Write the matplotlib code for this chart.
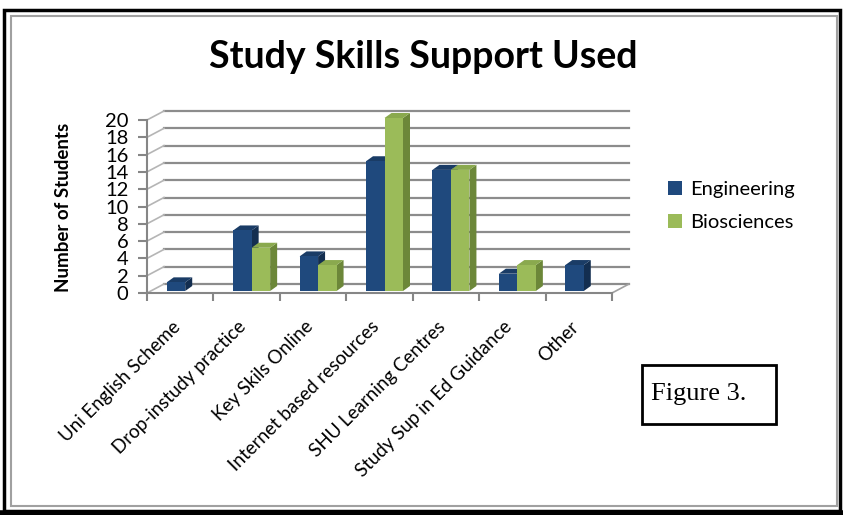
import matplotlib
matplotlib.use('Agg')
import matplotlib.pyplot as plt
import matplotlib.transforms as mtransforms
from matplotlib.patches import Polygon, Rectangle, Patch
from matplotlib.lines import Line2D

plt.rcParams['font.family'] = ['Lato', 'DejaVu Sans']

categories = ['Uni English Scheme', 'Drop-instudy practice', 'Key Skils Online',
              'Internet based resources', 'SHU Learning Centres',
              'Study Sup in Ed Guidance', 'Other']
engineering = [1, 7, 4, 15, 14, 2, 3]
biosciences = [0, 5, 3, 20, 14, 3, 0]
series_names = ['Engineering', 'Biosciences']
y_ticks = list(range(0, 21, 2))

# colours: front, top, side
BLUE = ('#1F497D', '#1A3C66', '#132E50')
GREEN = ('#9BBB59', '#8AA94E', '#6C8739')
GRID = '#8C8C8C'

W, H = 843, 515
fig = plt.figure(figsize=(W / 100, H / 100), dpi=100)

# plot area in pixels (front face of the 3D box)
px_left, px_right, px_bottom, px_top = 147, 612, 293, 120
ax = fig.add_axes([px_left / W, 1 - px_bottom / H,
                   (px_right - px_left) / W, (px_bottom - px_top) / H])
n = len(categories)
ax.set_xlim(0, n)
ax.set_ylim(0, 20)

ux = n / (px_right - px_left)      # data units per pixel, x
uy = 20 / (px_bottom - px_top)     # data units per pixel, y

# back wall depth offset
wdx, wdy = 17 * ux, 9 * uy

# back wall gridlines and left side wall slants
for v in y_ticks:
    ax.add_line(Line2D([wdx, n + wdx], [v + wdy, v + wdy], color=GRID,
                       lw=1.6, clip_on=False, zorder=1))
    ax.add_line(Line2D([0, wdx], [v, v + wdy], color='#B5B5B5', lw=1.2,
                       clip_on=False, zorder=1))
ax.add_line(Line2D([n, n + wdx], [0, wdy], color='#A0A0A0', lw=1.2,
                   clip_on=False, zorder=1))

# bars with simple 3D faces
bw = 18.5 * ux
shift_x, shift_y = 5 * ux, 2 * uy
bdx, bdy = 7 * ux, 5 * uy
for i in range(n):
    for j, (vals, cols) in enumerate([(engineering, BLUE), (biosciences, GREEN)]):
        v = vals[i]
        if v == 0:
            continue
        x0 = i + 0.5 - bw + j * bw + shift_x
        x1 = x0 + bw
        y0 = shift_y
        top = v + shift_y
        z = 3 + i * 2 + j
        ax.add_patch(Polygon([(x1, y0), (x1 + bdx, y0 + bdy), (x1 + bdx, top + bdy), (x1, top)],
                             closed=True, facecolor=cols[2], edgecolor='none',
                             clip_on=False, zorder=z))
        ax.add_patch(Polygon([(x0, top), (x0 + bdx, top + bdy), (x1 + bdx, top + bdy), (x1, top)],
                             closed=True, facecolor=cols[1], edgecolor='none',
                             clip_on=False, zorder=z))
        ax.add_patch(Rectangle((x0, y0), bw, v, facecolor=cols[0], edgecolor='none',
                               clip_on=False, zorder=z))

# axes styling
for s in ['top', 'right']:
    ax.spines[s].set_visible(False)
for s in ['left', 'bottom']:
    ax.spines[s].set_color('#868686')
    ax.spines[s].set_linewidth(1.5)
ax.patch.set_alpha(0)

ax.set_yticks(y_ticks)
ax.tick_params(axis='y', length=6.5, width=1.5, color='#868686', labelsize=14.5, pad=7)
ax.set_xticks(range(n + 1))
ax.set_xticklabels([])
ax.tick_params(axis='x', which='major', length=6, width=1.5, color='#868686')
ax.set_xticks([i + 0.5 for i in range(n)], minor=True)
ax.set_xticklabels(categories, minor=True, rotation=45, ha='right', va='top',
                   rotation_mode='anchor', fontsize=13.5)
ax.tick_params(axis='x', which='minor', length=0, pad=18)
# nudge rotated labels left so their ends sit on the category centres
nudge = mtransforms.ScaledTranslation(-0.09, 0, fig.dpi_scale_trans)
for lbl in ax.get_xminorticklabels():
    lbl.set_transform(lbl.get_transform() + nudge)

ax.set_ylabel('Number of Students', fontsize=13.5, fontweight='bold')
ax.yaxis.set_label_coords((72 - px_left) / (px_right - px_left),
                          (px_bottom - 207) / (px_bottom - px_top))

fig.text(423 / W, 1 - 57 / H, 'Study Skills Support Used', ha='center', va='center',
         fontsize=27, fontweight='bold')

handles = [Patch(facecolor=BLUE[0]), Patch(facecolor=GREEN[0])]
fig.legend(handles, series_names, loc='upper left', frameon=False,
           bbox_to_anchor=(650 / W, 1 - 163 / H), fontsize=14.5,
           handlelength=0.7, handleheight=0.7, handletextpad=0.4, labelspacing=0.8)

# "Figure 3." caption box
fig.text(699 / W, 1 - 394 / H, 'Figure 3.', ha='center', va='center',
         fontsize=19, family='Liberation Serif')
fig.add_artist(Rectangle((642 / W, 1 - 424 / H), 134 / W, 59 / H,
                         transform=fig.transFigure, fill=False, edgecolor='black', lw=2))

# outer frames
fig.add_artist(Rectangle((11 / W, 1 - 506 / H), 826 / W, 490 / H,
                         transform=fig.transFigure, fill=False, edgecolor='#A0A0A0', lw=1.5))
fig.add_artist(Rectangle((4 / W, 1 - 511 / H), 836 / W, 501 / H,
                         transform=fig.transFigure, fill=False, edgecolor='black', lw=2.5))
fig.add_artist(Line2D([0, 1], [2 / H, 2 / H], transform=fig.transFigure,
                      color='black', lw=4))

fig.savefig('out.png', dpi=100)
